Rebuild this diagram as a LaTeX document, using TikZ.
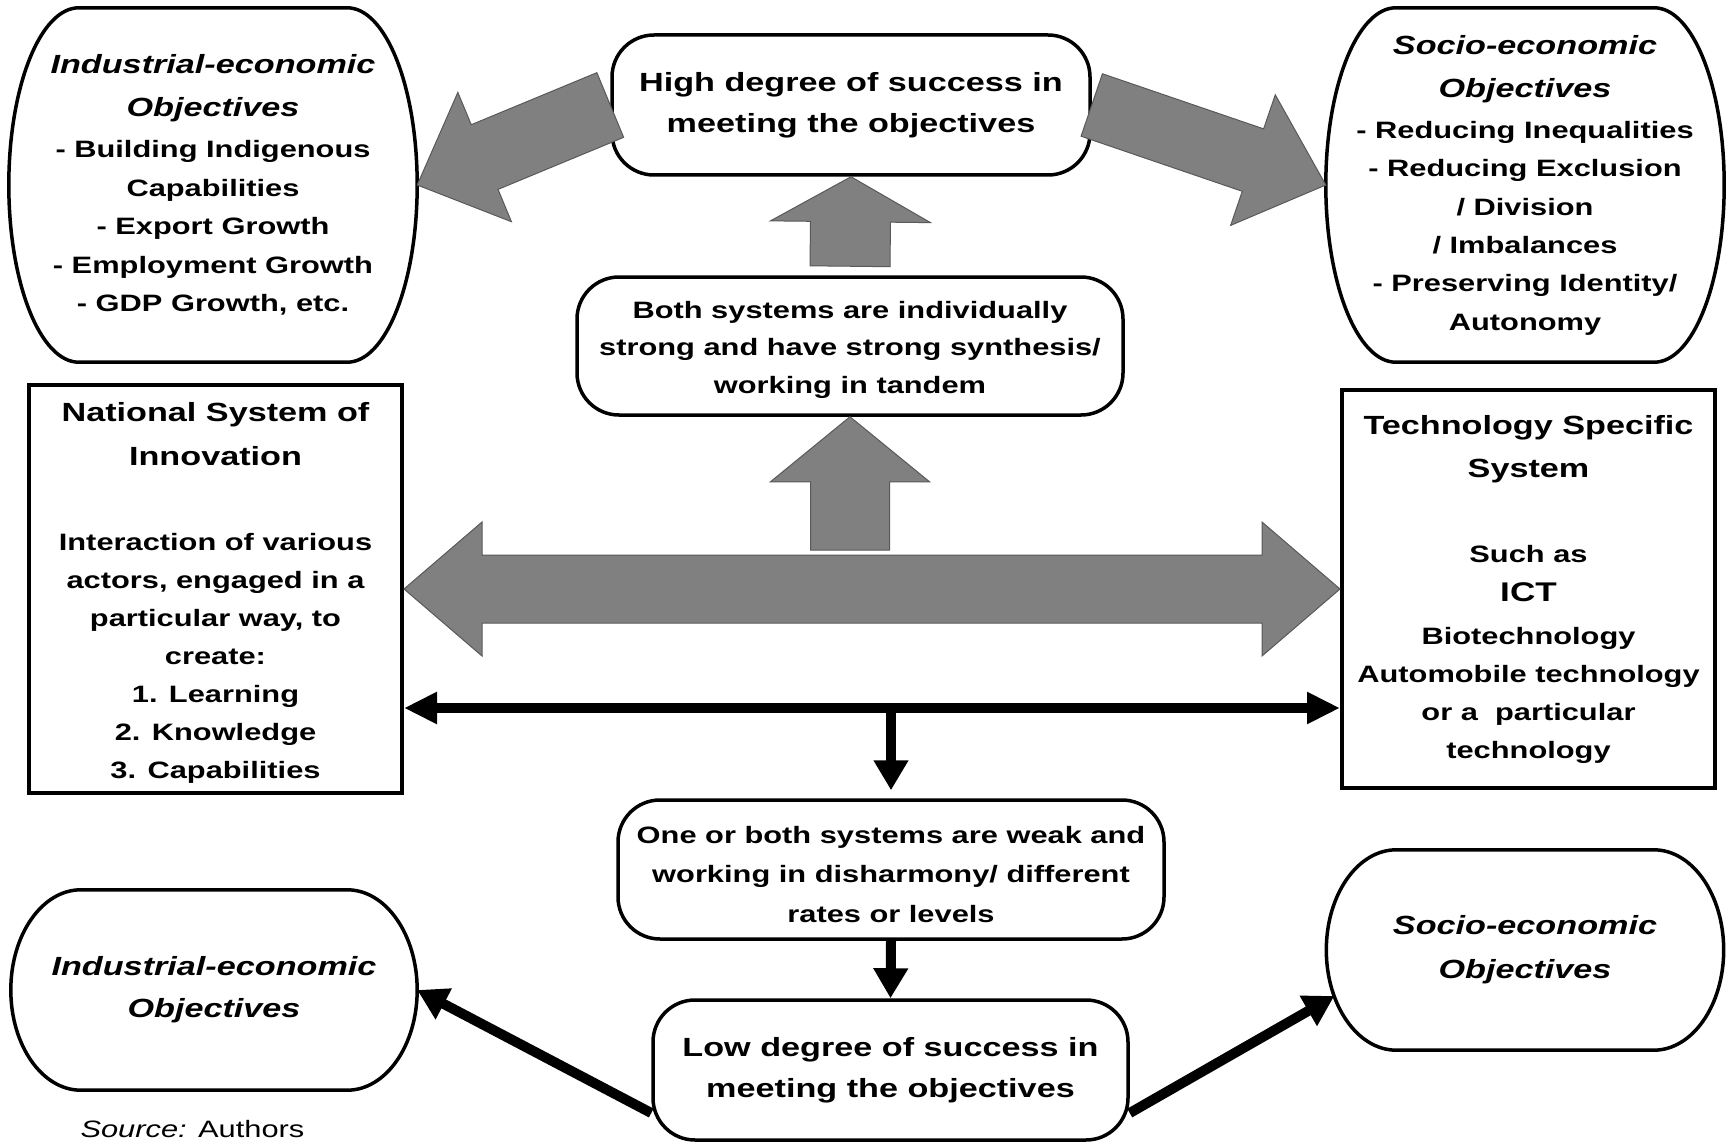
\documentclass[tikz,border=0pt]{standalone}
\usepackage{fontspec}
\setmainfont{Liberation Sans}[FakeStretch=1.3]
\usetikzlibrary{calc,arrows.meta}
\definecolor{arrowgrey}{HTML}{808080}

% type sizes: headings and body text
\newcommand\ttl{\fontsize{26.3}{41}\selectfont}
\newcommand\bdy[1]{\fontsize{23.7}{#1}\selectfont}
% invisible strut that lowers a centred text block
\newcommand\lift[1]{\rule{0pt}{#1}}

% barrel outline around a node: flat top and bottom, elliptic sides
\newcommand\barrel[2]{%
  \draw[outline] ([xshift=#2]#1.north west) -- ([xshift=-#2]#1.north east)
    .. controls ([xshift={-0.4477*#2}]#1.north east) and ($(#1.east)!0.5523!(#1.north east)$) .. (#1.east)
    .. controls ($(#1.east)!0.5523!(#1.south east)$) and ([xshift={-0.4477*#2}]#1.south east) .. ([xshift=-#2]#1.south east)
    -- ([xshift=#2]#1.south west)
    .. controls ([xshift={0.4477*#2}]#1.south west) and ($(#1.west)!0.5523!(#1.south west)$) .. (#1.west)
    .. controls ($(#1.west)!0.5523!(#1.north west)$) and ([xshift={0.4477*#2}]#1.north west) .. cycle;}

% grey block arrow: tail, tip, shaft half width, head half width, head length
\newcommand\blockarrow[5]{%
  \coordinate (ba-base) at ($(#2)!#5!(#1)$);
  \path[blockarrow] (#2) -- ($(ba-base)!#4!90:(#2)$) -- ($(ba-base)!#3!90:(#2)$)
    -- ($(#1)!#3!90:(#2)$) -- ($(#1)!#3!-90:(#2)$) -- ($(ba-base)!#3!-90:(#2)$)
    -- ($(ba-base)!#4!-90:(#2)$) -- cycle;}

\tikzset{
  outline/.style={draw=black, line width=3.5pt},
  rbox/.style={outline, rounded corners=42pt, fill=white, align=center, inner sep=0pt},
  sbox/.style={outline, line width=4pt, fill=white, align=center, inner sep=0pt},
  barrelbox/.style={align=center, inner sep=0pt},
  blockarrow/.style={fill=arrowgrey, draw=black!65, line width=1pt, line join=miter},
  flow/.style={draw=black, line width=10pt, -{Triangle[length=30pt,width=33pt]}},
  twoway/.style={draw=black, line width=10pt, {Triangle[length=33pt,width=30pt]}-{Triangle[length=33pt,width=30pt]}},
}

\begin{document}
\begin{tikzpicture}[x=1pt, y=-1pt, font=\bfseries]
\useasboundingbox (0,0) rectangle (1730,1142);
\clip (0,0) rectangle (1730,1142);

% objective barrels
\node[barrelbox, minimum width=408pt, minimum height=354pt, font=\bfseries\bdy{38.5}] (tl) at (213,185)
  {{\ttl\itshape Industrial-economic}\\[4.5pt]{\ttl\itshape Objectives}\\[2.5pt]- Building Indigenous\\Capabilities\\- Export Growth\\- Employment Growth\\- GDP Growth, etc.};
\barrel{tl}{70pt}

\node[barrelbox, minimum width=398pt, minimum height=354pt, font=\bfseries\bdy{38.3}] (tr) at (1525,185)
  {{\ttl\itshape Socio-economic}\\[5.5pt]{\ttl\itshape Objectives}\\[2.5pt]- Reducing Inequalities\\- Reducing Exclusion\\/ Division\\/ Imbalances\\- Preserving Identity/\\Autonomy};
\barrel{tr}{70pt}

\node[barrelbox, minimum width=406pt, minimum height=200pt, font=\bfseries\itshape\ttl] (bl) at (214,990)
  {Industrial-economic\\[1pt]Objectives};
\barrel{bl}{70pt}

\node[barrelbox, minimum width=397pt, minimum height=200pt, font=\bfseries\itshape\ttl] (br) at (1525,950)
  {Socio-economic\\[3pt]Objectives};
\barrel{br}{70pt}

% outcome and state boxes
\node[rbox, minimum width=478pt, minimum height=140pt, font=\bfseries\ttl] (high) at (851,105)
  {High degree of success in\\meeting the objectives};
\node[rbox, minimum width=546pt, minimum height=138pt, font=\bfseries\bdy{37.5}] (both) at (850,346)
  {\lift{24.5pt}Both systems are individually\\strong and have strong synthesis/\\working in tandem};
\node[rbox, minimum width=546pt, minimum height=139pt, font=\bfseries\bdy{39.5}] (one) at (891,869.5)
  {\lift{27pt}One or both systems are weak and\\working in disharmony/ different\\rates or levels};
\node[rbox, minimum width=475pt, minimum height=140pt, font=\bfseries\ttl] (low) at (890.5,1070)
  {Low degree of success in\\meeting the objectives};

% the two systems
\node[sbox, minimum width=373pt, minimum height=408pt, font=\bfseries\bdy{38}] (nsi) at (215.5,589)
  {{\ttl\lift{27pt}National System of}\\[6pt]{\ttl Innovation}\\[47pt]Interaction of various\\actors, engaged in a\\particular way, to\\create:\\1. Learning\\2. Knowledge\\3. Capabilities};
\node[sbox, minimum width=373pt, minimum height=398pt, font=\bfseries\bdy{38}] (tss) at (1528.5,589)
  {{\ttl Technology Specific}\\[5pt]{\ttl System}\\[47pt]Such as\\[1pt]{\fontsize{27}{38}\selectfont ICT}\\[5pt]Biotechnology\\Automobile technology\\or a\ \ particular\\technology};

% grey block arrows of the strong path
\blockarrow{high.west}{tl.east}{35pt}{70pt}{73pt}
\blockarrow{high.east}{tr.west}{33pt}{69pt}{77pt}
\coordinate (upper-tail) at ([yshift=9pt]both.north);
\blockarrow{upper-tail}{high.south}{40pt}{80pt}{45pt}
\coordinate (mid) at (both.south |- nsi.east);
\coordinate (lower-tail) at ([yshift=39pt]mid);
\blockarrow{lower-tail}{both.south}{39.5pt}{79.5pt}{65pt}
\path[blockarrow] (nsi.east) -- ([xshift=78pt,yshift=67pt]nsi.east) -- ([xshift=78pt,yshift=34pt]nsi.east)
  -- ([xshift=-78pt,yshift=34pt]tss.west) -- ([xshift=-78pt,yshift=67pt]tss.west) -- (tss.west)
  -- ([xshift=-78pt,yshift=-67pt]tss.west) -- ([xshift=-78pt,yshift=-34pt]tss.west)
  -- ([xshift=78pt,yshift=-34pt]nsi.east) -- ([xshift=78pt,yshift=-67pt]nsi.east) -- cycle;

% black arrows of the weak path
\coordinate (hl) at ([yshift=-119pt]nsi.east);
\draw[twoway] (hl) -- (hl -| tss.west);
\draw[flow, shorten >=8pt] (one.north |- hl) -- (one.north);
\draw[flow] (one.south) -- (low.north);
\draw[flow] ([yshift=-43pt]low.west) -- (bl.east);
\draw[flow] ([yshift=-43pt]low.east) -- ([xshift=8pt,yshift=-46pt]br.west);

% source line
\node[anchor=base west, font=\mdseries\bdy{30}] (src) at (77,1137) {\textit{Source:} Authors};
\end{tikzpicture}
\end{document}
